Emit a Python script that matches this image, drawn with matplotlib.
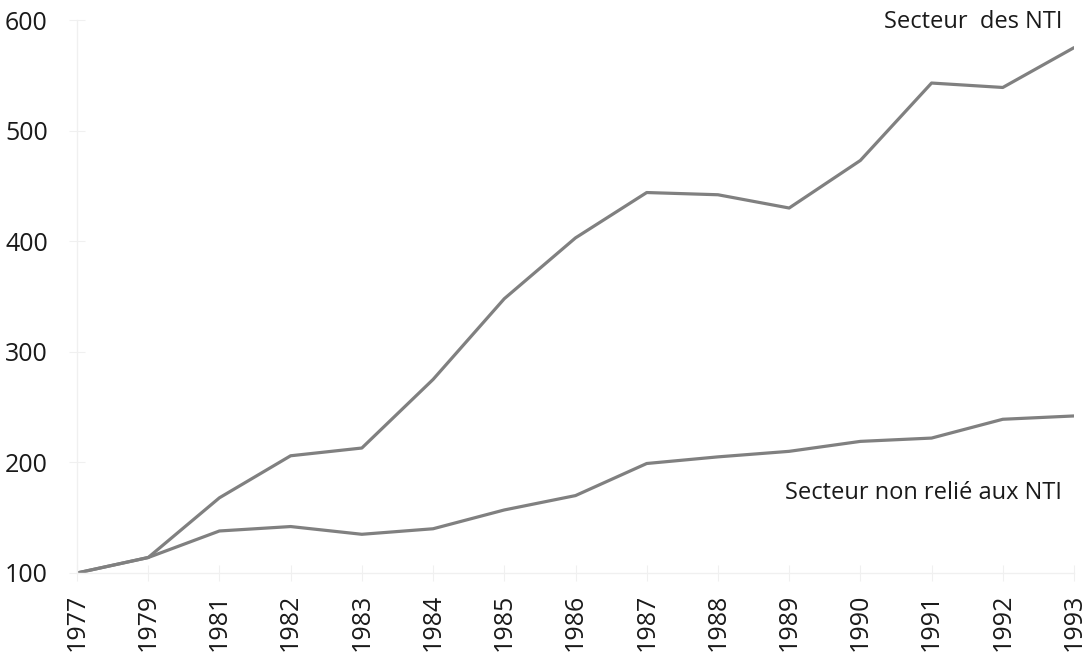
import matplotlib.pyplot as plt

years = ["1977", "1979", "1981", "1982", "1983", "1984", "1985", "1986",
         "1987", "1988", "1989", "1990", "1991", "1992", "1993"]
nti = [100, 114, 168, 206, 213, 275, 348, 403, 444, 442, 430, 473, 543, 539, 575]
non_nti = [100, 114, 138, 142, 135, 140, 157, 170, 199, 205, 210, 219, 222, 239, 242]

plt.rcParams["font.family"] = ["Open Sans", "DejaVu Sans"]

fig = plt.figure(figsize=(10.86, 6.58), dpi=100)
ax = fig.add_axes([77 / 1086, 1 - 573 / 658, (1074 - 77) / 1086, (573 - 20) / 658])

x = list(range(len(years)))
ax.plot(x, nti, color="#808080", linewidth=2.3, solid_capstyle="round")
ax.plot(x, non_nti, color="#808080", linewidth=2.3, solid_capstyle="round")

ax.set_xlim(0, len(years) - 1)
ax.set_ylim(100, 600)
ax.set_yticks([100, 200, 300, 400, 500, 600])
ax.set_xticks(x)
ax.set_xticklabels(years, rotation=90, fontsize=18, color="#1a1a1a")
ax.tick_params(axis="y", labelsize=18, labelcolor="#1a1a1a", pad=15,
               direction="inout", length=12, color="#f0f0f0")
ax.tick_params(axis="x", pad=9, direction="inout", length=12, color="#f0f0f0")

for side in ["top", "right"]:
    ax.spines[side].set_visible(False)
for side in ["left", "bottom"]:
    ax.spines[side].set_color("#f0f0f0")
    ax.spines[side].set_linewidth(1)

ax.text(1062 / 1086, 1 - 22 / 658, "Secteur  des NTI", transform=fig.transFigure,
        ha="right", va="center", fontsize=17, color="#1a1a1a")
ax.text(1062 / 1086, 1 - 493 / 658, "Secteur non relié aux NTI",
        transform=fig.transFigure, ha="right", va="center", fontsize=17,
        color="#1a1a1a")

fig.savefig("out.png", dpi=100)
plt.close(fig)
